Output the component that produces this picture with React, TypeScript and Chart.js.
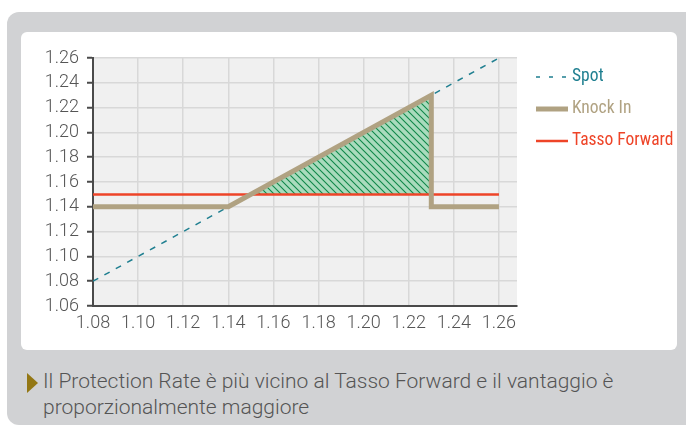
import React, { useEffect, useRef } from "react";
import { Chart, registerables } from "chart.js";

Chart.register(...registerables);

const xTickValues = [1.08, 1.1, 1.12, 1.14, 1.16, 1.18, 1.2, 1.22, 1.24, 1.26];
const yTickValues = [1.06, 1.08, 1.1, 1.12, 1.14, 1.16, 1.18, 1.2, 1.22, 1.24, 1.26];

const spotX = [1.08, 1.26];
const spotY = [1.08, 1.26];
const knockInX = [1.08, 1.14, 1.23, 1.23, 1.26];
const knockInY = [1.14, 1.14, 1.23, 1.14, 1.14];
const forwardX = [1.08, 1.26];
const forwardY = [1.15, 1.15];
const gainX = [1.15, 1.23, 1.23, 1.15];
const gainY = [1.15, 1.23, 1.15, 1.15];

const legendLabels = ["Spot", "Knock In", "Tasso Forward"];
const caption =
  "Il Protection Rate è più vicino al Tasso Forward e il vantaggio è proporzionalmente maggiore";

const SPOT_COLOR = "#1f7f90";
const KNOCK_COLOR = "#b0a282";
const FORWARD_COLOR = "#ee4428";
const AXIS_COLOR = "#4a4a4a";
const GRID_COLOR = "#d8d8d8";
const TICK_FONT = { family: "Roboto", size: 18, weight: 300 as any };

const zip = (xs: number[], ys: number[]) => xs.map((x, i) => ({ x, y: ys[i] }));

function makeHatch(): CanvasPattern | string {
  const c = document.createElement("canvas");
  const s = 7;
  c.width = s;
  c.height = s;
  const g = c.getContext("2d");
  if (!g) return "#a9dbbd";
  g.fillStyle = "#a9dbbd";
  g.fillRect(0, 0, s, s);
  g.strokeStyle = "#10884a";
  g.lineWidth = 1.1;
  g.beginPath();
  g.moveTo(-1, -1);
  g.lineTo(s + 1, s + 1);
  g.moveTo(-1, s - 1);
  g.lineTo(1, s + 1);
  g.moveTo(s - 1, -1);
  g.lineTo(s + 1, 1);
  g.stroke();
  const p = g.createPattern(c, "repeat");
  return p || "#a9dbbd";
}

const plotBg = {
  id: "plotBg",
  beforeDraw(chart: any) {
    const { ctx, chartArea } = chart;
    ctx.save();
    ctx.fillStyle = "#f0f0f0";
    ctx.fillRect(chartArea.left, chartArea.top, chartArea.right - chartArea.left, chartArea.bottom - chartArea.top);
    ctx.restore();
  },
};

const customLegend = {
  id: "customLegend",
  afterDraw(chart: any) {
    const { ctx } = chart;
    const x0 = 515;
    const lineW = 32;
    const rows = [
      { y: 45, color: SPOT_COLOR, width: 1.5, dash: [4, 9] },
      { y: 77, color: KNOCK_COLOR, width: 5, dash: [] as number[] },
      { y: 109, color: FORWARD_COLOR, width: 2.5, dash: [] as number[] },
    ];
    ctx.save();
    rows.forEach((r, i) => {
      ctx.beginPath();
      ctx.setLineDash(r.dash);
      ctx.strokeStyle = r.color;
      ctx.lineWidth = r.width;
      ctx.moveTo(x0, r.y);
      ctx.lineTo(x0 + lineW, r.y);
      ctx.stroke();
      ctx.setLineDash([]);
      ctx.fillStyle = r.color;
      ctx.font = "17.5px 'Liberation Sans Narrow', 'Roboto Condensed', Roboto, sans-serif";
      ctx.textBaseline = "middle";
      ctx.textAlign = "left";
      ctx.fillText(legendLabels[i], x0 + lineW + 4, r.y);
    });
    ctx.restore();
  },
};

export default function App() {
  const ref = useRef<HTMLCanvasElement | null>(null);

  useEffect(() => {
    if (!ref.current) return;
    const hatch = makeHatch();
    const chart = new Chart(ref.current, {
      type: "line",
      data: {
        datasets: [
          {
            label: legendLabels[1],
            data: zip(knockInX, knockInY),
            borderColor: KNOCK_COLOR,
            borderWidth: 5,
            borderJoinStyle: "miter",
            borderCapStyle: "butt",
            pointRadius: 0,
            fill: false,
            tension: 0,
          },
          {
            label: legendLabels[0],
            data: zip(spotX, spotY),
            borderColor: SPOT_COLOR,
            borderWidth: 1.5,
            borderDash: [6, 7],
            pointRadius: 0,
            fill: false,
          },
          {
            label: legendLabels[2],
            data: zip(forwardX, forwardY),
            borderColor: FORWARD_COLOR,
            borderWidth: 2.5,
            pointRadius: 0,
            fill: false,
          },
          {
            label: "gain",
            data: zip(gainX, gainY),
            borderWidth: 0,
            borderColor: "rgba(0,0,0,0)",
            backgroundColor: hatch as any,
            pointRadius: 0,
            fill: "shape",
          },
        ],
      },
      options: {
        responsive: false,
        animation: false,
        devicePixelRatio: 1,
        layout: { padding: { left: 0, top: 26, right: 160, bottom: 0 } },
        plugins: {
          legend: { display: false },
          tooltip: { enabled: false },
        },
        scales: {
          x: {
            type: "linear",
            min: 1.08,
            max: 1.268,
            afterBuildTicks: (axis: any) => {
              axis.ticks = xTickValues.map((v) => ({ value: v }));
            },
            afterFit: (axis: any) => {
              axis.height = 44;
            },
            ticks: {
              callback: (v: any) => Number(v).toFixed(2),
              font: TICK_FONT,
              color: "#555555",
              padding: 7,
              maxRotation: 0,
              autoSkip: false,
            },
            grid: { color: GRID_COLOR, lineWidth: 1.5, drawTicks: false },
            border: { color: AXIS_COLOR, width: 2 },
          },
          y: {
            type: "linear",
            min: 1.06,
            max: 1.26,
            afterBuildTicks: (axis: any) => {
              axis.ticks = yTickValues.map((v) => ({ value: v }));
            },
            afterFit: (axis: any) => {
              axis.width = 72;
            },
            ticks: {
              callback: (v: any) => Number(v).toFixed(2),
              font: TICK_FONT,
              color: "#555555",
              padding: 8,
              autoSkip: false,
            },
            grid: {
              color: GRID_COLOR,
              lineWidth: 1.5,
              tickLength: 6,
              tickColor: AXIS_COLOR,
              tickWidth: 2,
            },
            border: { color: AXIS_COLOR, width: 2 },
          },
        },
      },
      plugins: [plotBg, customLegend],
    });
    return () => chart.destroy();
  }, []);

  return (
    <div
      style={{
        position: "fixed",
        left: 0,
        top: 0,
        width: 686,
        height: 429,
        overflow: "hidden",
        background: "#ffffff",
      }}
    >
      <div
        style={{
          position: "absolute",
          left: 7,
          top: 12,
          width: 740,
          height: 413,
          borderRadius: 12,
          background: "#d1d2d4",
        }}
      />
      <div
        style={{
          position: "absolute",
          left: 21,
          top: 32,
          width: 656,
          height: 318,
          borderRadius: 6,
          background: "#ffffff",
          overflow: "hidden",
        }}
      >
        <canvas ref={ref} width={656} height={318} style={{ display: "block" }} />
      </div>
      <div
        style={{
          position: "absolute",
          left: 27,
          top: 373,
          width: 0,
          height: 0,
          borderLeft: "11px solid #937714",
          borderTop: "10px solid transparent",
          borderBottom: "10px solid transparent",
        }}
      />
      <div
        style={{
          position: "absolute",
          left: 43,
          top: 368,
          width: 630,
          fontFamily: "Roboto, sans-serif",
          fontWeight: 300,
          fontSize: 21,
          lineHeight: "26px",
          color: "#555555",
        }}
      >
        {caption}
      </div>
    </div>
  );
}
